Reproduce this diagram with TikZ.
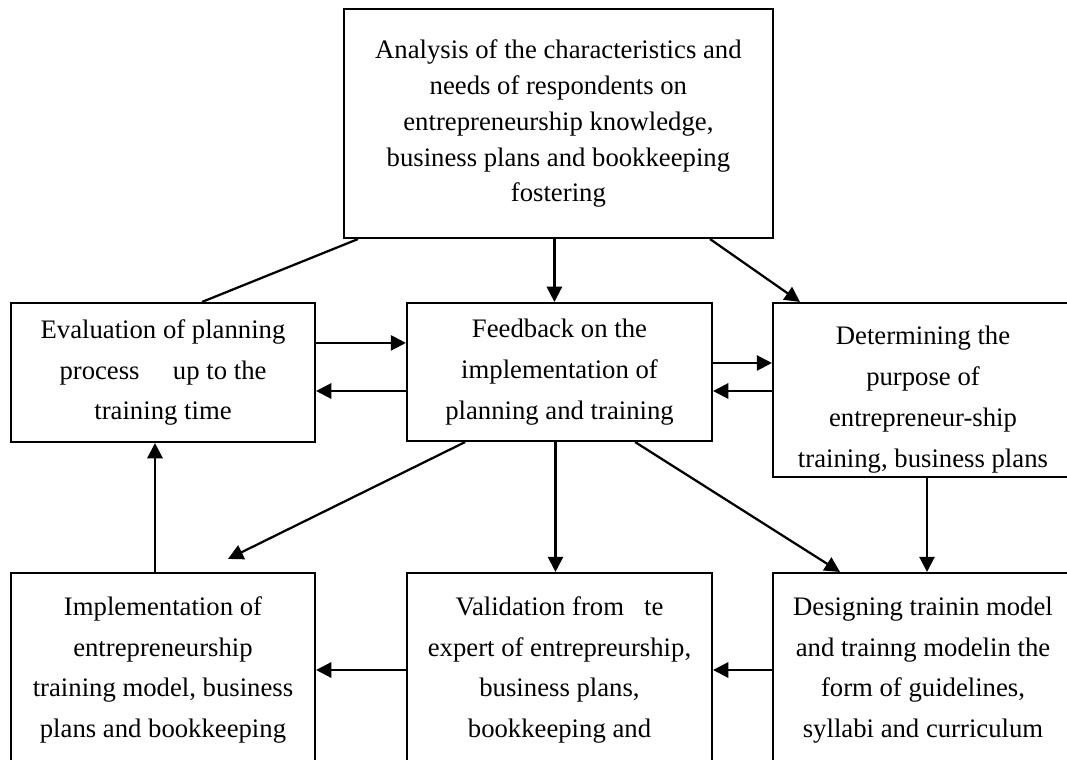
\documentclass[tikz,border=0pt]{standalone}
\usepackage{fontspec}
\setmainfont{Liberation Serif}
\usetikzlibrary{arrows.meta}

\tikzset{
  box/.style={draw, line width=1.5pt, align=center, inner sep=0pt, font=\fontsize{19}{29}\selectfont},
  arr/.style={line width=1.6pt, -{Triangle[length=0.38cm,width=0.38cm]}},
  plain/.style={line width=1.6pt}
}

\begin{document}
\begin{tikzpicture}
\useasboundingbox (0,0) rectangle (26.675,-19);
% boxes
\node[box, minimum width=10.725cm, minimum height=5.725cm, font=\fontsize{19}{25.6}\selectfont] (analysis) at (13.96,-3.0875)
  {Analysis of the characteristics and\\needs of respondents on\\entrepreneurship knowledge,\\business plans and bookkeeping\\fostering};
\node[box, minimum width=7.6cm, minimum height=3.475cm] (eval) at (4.075,-9.3125)
  {Evaluation of planning\\process \quad up to the\\training time};
\node[box, minimum width=7.625cm, minimum height=3.45cm] (feedback) at (13.9875,-9.3)
  {Feedback on the\\implementation of\\planning and training};
\node[box, minimum width=7.5cm, minimum height=4.35cm] (determ) at (23.075,-9.75)
  {\rule{0pt}{27pt}Determining the\\purpose of\\entrepreneur-ship\\training, business plans};
\node[box, minimum width=7.6cm, minimum height=4.85cm] (impl) at (4.075,-16.75)
  {Implementation of\\entrepreneurship\\training model, business\\plans and bookkeeping};
\node[box, minimum width=7.625cm, minimum height=4.85cm] (valid) at (13.9875,-16.75)
  {Validation from \enspace te\\expert of entrepreurship,\\business plans,\\bookkeeping and};
\node[box, minimum width=7.5cm, minimum height=4.85cm] (design) at (23.075,-16.75)
  {Designing trainin model\\and trainng modelin the\\form of guidelines,\\syllabi and curriculum};
% connectors
\draw[arr] ([xshift=-0.1cm]analysis.south) -- ([xshift=-0.1cm]analysis.south |- feedback.north);
\draw[arr] ([xshift=3.79cm]analysis.south) -- ([xshift=-3.075cm]determ.north);
\draw[plain] ([xshift=-5.01cm]analysis.south) -- ([xshift=0.975cm]eval.north);
\draw[arr] ([yshift=0.74cm]eval.east) -- ([yshift=0.74cm]eval.east -| feedback.west);
\draw[arr] ([yshift=-0.475cm]feedback.west) -- ([yshift=-0.475cm]feedback.west -| eval.east);
\draw[arr] ([yshift=0.225cm]feedback.east) -- ([yshift=0.225cm]feedback.east -| determ.west);
\draw[arr] ([yshift=-0.475cm]feedback.east -| determ.west) -- ([yshift=-0.475cm]feedback.east);
\draw[arr] ([xshift=-2.36cm]feedback.south) -- ([shift={(1.625cm,0.325cm)}]impl.north);
\draw[arr] ([xshift=-0.1cm]feedback.south) -- ([xshift=-0.1cm]feedback.south |- valid.north);
\draw[arr] ([xshift=1.89cm]feedback.south) -- ([xshift=-2.075cm]design.north);
\draw[arr] ([xshift=0.1cm]determ.south) -- ([xshift=0.1cm]determ.south |- design.north);
\draw[arr] ([xshift=-0.2cm]impl.north) -- ([xshift=-0.2cm]impl.north |- eval.south);
\draw[arr] (design.west) -- (valid.east);
\draw[arr] (valid.west) -- (impl.east);
\end{tikzpicture}
\end{document}
